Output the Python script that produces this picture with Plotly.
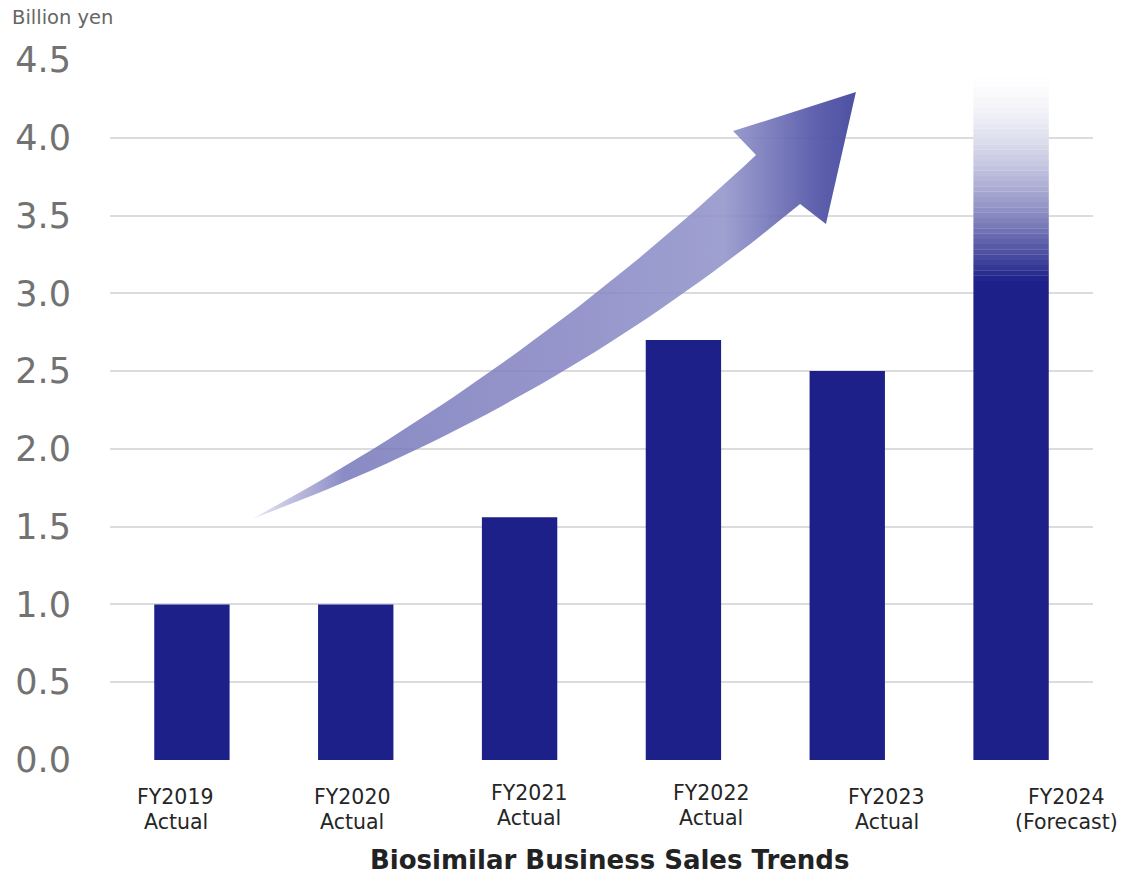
import plotly.graph_objects as go

# ---------------- data ----------------
categories = ["FY2019", "FY2020", "FY2021", "FY2022", "FY2023", "FY2024"]
sub_labels = ["Actual", "Actual", "Actual", "Actual", "Actual", "(Forecast)"]
sales = [1.0, 1.0, 1.56, 2.70, 2.50, 4.43]       # billion yen (FY2024 = top of forecast bar)
forecast_solid = 3.08                            # solid part of the FY2024 forecast bar
y_ticks = [0.0, 0.5, 1.0, 1.5, 2.0, 2.5, 3.0, 3.5, 4.0, 4.5]

# ---------------- style ----------------
BAR = (29, 32, 136)
BAR_HEX = "#1d2088"
FONT = "DejaVu Sans"
L, R, T, B = 110, 29, 60, 114
W, H = 1122, 874
BAR_W = 0.46

fig = go.Figure()

# solid bars (actuals + solid part of forecast)
solid_vals = sales[:-1] + [forecast_solid]
fig.add_trace(go.Bar(
    x=categories, y=solid_vals, width=BAR_W,
    marker=dict(color=BAR_HEX, line=dict(width=0)),
    hoverinfo="skip", showlegend=False,
))

# fading part of the forecast bar (banded gradient to white)
N = 40
top = sales[-1]
h = (top - forecast_solid) / N
bases, heights, colors = [], [], []
for i in range(N):
    t = (i + 0.5) / N
    m = 1 - (1 - t) ** 1.7
    c = tuple(round(BAR[k] + (255 - BAR[k]) * m) for k in range(3))
    bases.append(forecast_solid + i * h)
    heights.append(h * 1.02)
    colors.append(f"rgb({c[0]},{c[1]},{c[2]})")
fig.add_trace(go.Bar(
    x=[categories[-1]] * N, y=heights, base=bases, width=BAR_W,
    marker=dict(color=colors, line=dict(width=0)),
    hoverinfo="skip", showlegend=False,
))

# ---------------- decorative growth arrow (numeric overlay axis) ----------------
def qbez(p0, p1, p2, n=40):
    pts = []
    for j in range(n + 1):
        s = j / n
        x = (1 - s) ** 2 * p0[0] + 2 * (1 - s) * s * p1[0] + s ** 2 * p2[0]
        y = (1 - s) ** 2 * p0[1] + 2 * (1 - s) * s * p1[1] + s ** 2 * p2[1]
        pts.append((x, y))
    return pts

tail = (0.379, 1.556)
up_ctrl = (2.054, 2.513)
notch_up = (3.443, 3.889)
barb_l = (3.303, 4.043)
tip = (4.053, 4.294)
barb_r = (3.870, 3.446)
notch_lo = (3.712, 3.574)
lo_ctrl = (2.210, 2.263)

pts = qbez(tail, up_ctrl, notch_up)
pts += [barb_l, tip, barb_r, notch_lo]
pts += qbez(notch_lo, lo_ctrl, tail)[1:]
ax = [p[0] for p in pts]
ay = [p[1] for p in pts]

fig.add_trace(go.Scatter(
    x=ax, y=ay, xaxis="x2", yaxis="y",
    mode="lines", fill="toself",
    line=dict(width=0, color="rgba(0,0,0,0)"),
    fillgradient=dict(
        type="horizontal", start=tail[0], stop=tip[0],
        colorscale=[
            [0.0, "rgba(170,168,215,0.30)"],
            [0.06, "rgba(150,150,205,0.60)"],
            [0.15, "rgba(118,119,186,0.85)"],
            [0.30, "rgba(124,124,190,0.85)"],
            [0.55, "rgba(132,132,195,0.85)"],
            [0.78, "rgba(148,150,203,0.90)"],
            [0.93, "rgba(88,90,170,0.95)"],
            [1.0, "rgba(72,75,160,0.97)"],
        ],
    ),
    hoverinfo="skip", showlegend=False,
))

# ---------------- annotations ----------------
label_x = [-0.10, 0.98, 2.06, 3.17, 4.24, 5.34]
line1_y = [-0.053, -0.053, -0.047, -0.047, -0.053, -0.053]
line2_y = [-0.089, -0.089, -0.083, -0.083, -0.089, -0.089]
annotations = []
for i, cat in enumerate(categories):
    for txt, yy in ((cat, line1_y[i]), (sub_labels[i], line2_y[i])):
        annotations.append(dict(
            x=label_x[i], y=yy, xref="x", yref="paper",
            text=txt, showarrow=False,
            xanchor="center", yanchor="middle", align="center",
            font=dict(family=FONT, size=20.5, color="#262626"),
        ))
annotations.append(dict(
    x=0.508, y=-0.143, xref="paper", yref="paper",
    text="<b>Biosimilar Business Sales Trends</b>", showarrow=False,
    xanchor="center", yanchor="middle",
    font=dict(family=FONT, size=26, color="#222222"),
))
annotations.append(dict(
    x=-0.102, y=1.061, xref="paper", yref="paper",
    text="Billion yen", showarrow=False, xanchor="left", yanchor="middle",
    font=dict(family=FONT, size=19.5, color="#666666"),
))

fig.update_layout(
    width=W, height=H,
    margin=dict(l=L, r=R, t=T, b=B),
    paper_bgcolor="white", plot_bgcolor="white",
    barmode="overlay",
    showlegend=False,
    annotations=annotations,
    xaxis=dict(
        type="category", categoryorder="array", categoryarray=categories,
        range=[-0.5, 5.5], showticklabels=False, showgrid=False,
        zeroline=False, showline=False, ticks="",
    ),
    xaxis2=dict(
        type="linear", overlaying="x", range=[-0.5, 5.5],
        showticklabels=False, showgrid=False, zeroline=False,
        showline=False, ticks="", visible=False,
    ),
    yaxis=dict(
        range=[0, 4.5], tickvals=y_ticks, tickformat=".1f",
        showgrid=True, gridcolor="#dcdcdc", gridwidth=2,
        zeroline=False, showline=False, ticks="",
        ticklabelstandoff=38,
        tickfont=dict(family=FONT, size=35, color="#727272"),
    ),
)

fig.write_html("out.html")
